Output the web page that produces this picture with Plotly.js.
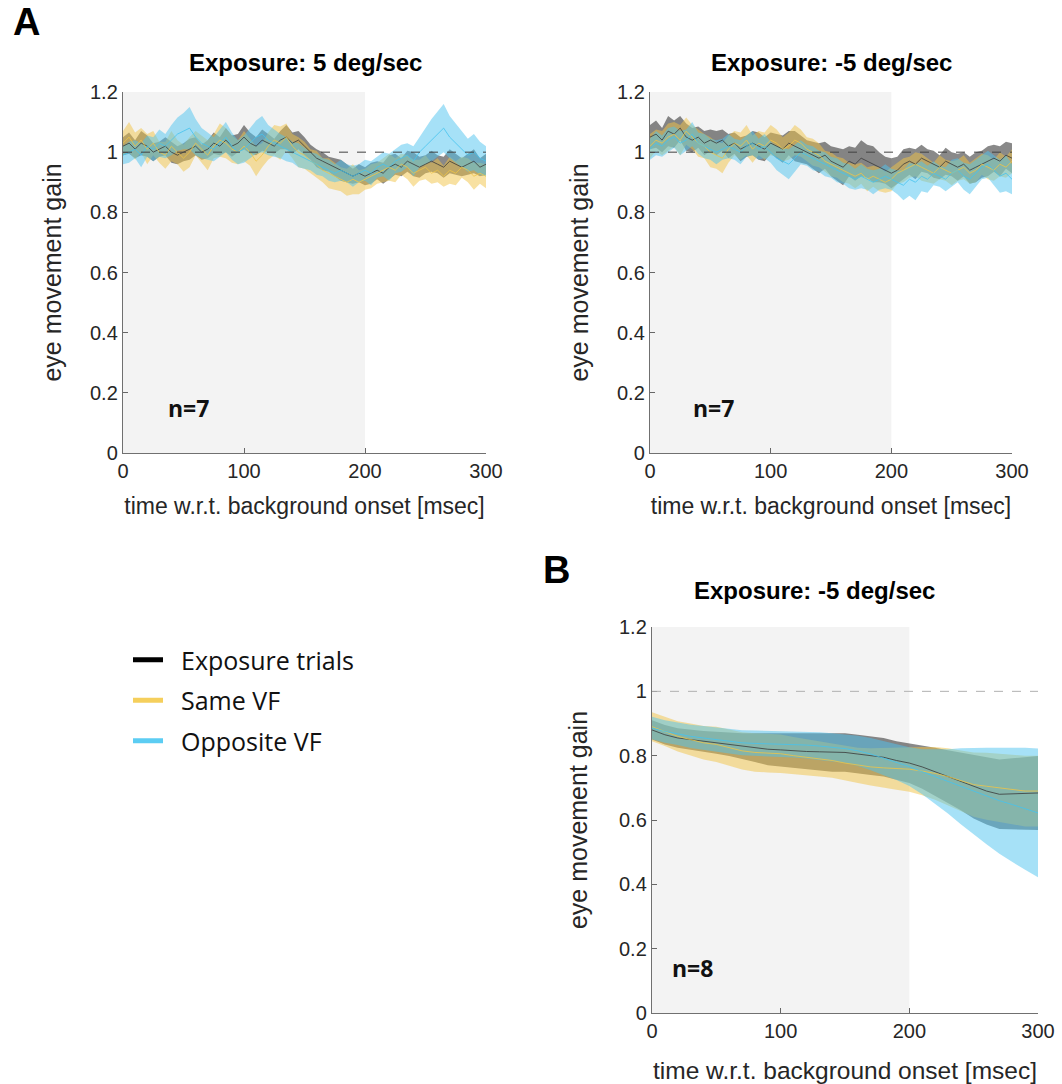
<!DOCTYPE html>
<html>
<head>
<meta charset="utf-8">
<script src="https://cdn.plot.ly/plotly-3.0.1.min.js"></script>
<style>html,body{margin:0;padding:0;background:#fff;}#chart{width:1062px;height:1084px;}</style>
</head>
<body>
<div id="chart"></div>
<script>
// ---------------- DATA ----------------
const seriesNames = ["Exposure trials", "Same VF", "Opposite VF"];
const panelTitles = ["Exposure: 5 deg/sec", "Exposure: -5 deg/sec", "Exposure: -5 deg/sec"];
const nLabels = ["n=7", "n=7", "n=8"];
const xTicks = [0, 100, 200, 300];
const yTicks = [0, 0.2, 0.4, 0.6, 0.8, 1, 1.2];

// Panel A left (5 deg/sec), samples every 5 ms, 0..300
const aL_exp_mean = [1.02,1.03,1.01,1.03,1.02,1.00,1.01,1.02,1.00,0.99,1.00,
  1.01,1.02,1.00,1.01,1.03,1.02,1.04,1.02,1.03,1.05,
  1.03,1.02,1.04,1.03,1.02,1.04,1.05,1.03,1.04,1.02,
  1.00,0.98,0.97,0.96,0.95,0.94,0.93,0.92,0.93,0.92,
  0.93,0.94,0.93,0.95,0.96,0.95,0.97,0.96,0.95,0.96,
  0.97,0.96,0.95,0.97,0.96,0.95,0.96,0.97,0.95,0.96];
const aL_exp_sem = [0.03,0.035,0.03,0.04,0.035,0.03,0.025,0.03,0.035,0.03,0.03,
  0.035,0.03,0.025,0.03,0.035,0.03,0.04,0.035,0.03,0.04,
  0.035,0.03,0.035,0.03,0.025,0.03,0.04,0.035,0.03,0.03,
  0.025,0.03,0.03,0.025,0.03,0.035,0.03,0.025,0.03,0.03,
  0.035,0.03,0.035,0.04,0.035,0.03,0.035,0.04,0.035,0.03,
  0.035,0.03,0.035,0.04,0.035,0.03,0.035,0.04,0.03,0.035];
const aL_same_mean = [1.03,1.05,1.02,1.04,1.01,1.03,1.00,0.99,1.02,1.00,0.98,
  1.00,1.03,1.01,0.99,1.02,1.04,1.03,1.01,1.00,1.02,
  1.00,0.97,0.99,1.02,1.04,1.03,1.05,1.02,1.00,0.99,
  0.97,0.96,0.94,0.93,0.92,0.91,0.90,0.91,0.90,0.91,
  0.92,0.93,0.94,0.95,0.94,0.96,0.95,0.93,0.94,0.95,
  0.93,0.94,0.92,0.94,0.93,0.95,0.94,0.92,0.93,0.92];
const aL_same_sem = [0.04,0.05,0.045,0.04,0.05,0.04,0.035,0.045,0.05,0.04,0.045,
  0.05,0.04,0.045,0.05,0.04,0.055,0.05,0.045,0.04,0.05,
  0.045,0.05,0.04,0.045,0.05,0.055,0.045,0.04,0.05,0.045,
  0.04,0.045,0.04,0.05,0.045,0.04,0.045,0.05,0.04,0.035,
  0.04,0.035,0.04,0.045,0.04,0.035,0.04,0.045,0.035,0.04,
  0.035,0.04,0.035,0.045,0.04,0.035,0.04,0.045,0.035,0.04];
const aL_opp_mean = [0.99,1.00,1.01,0.99,1.02,1.01,1.03,1.02,1.04,1.06,1.07,
  1.08,1.05,1.03,1.02,1.01,1.03,1.05,1.02,1.00,1.01,
  1.03,1.05,1.06,1.04,1.03,1.02,1.01,1.00,0.99,0.98,
  0.97,0.96,0.95,0.94,0.93,0.94,0.93,0.92,0.93,0.94,
  0.93,0.95,0.96,0.95,0.97,0.98,0.99,0.97,1.00,1.02,
  1.04,1.06,1.08,1.05,1.03,1.01,0.99,1.00,0.98,0.97];
const aL_opp_sem = [0.03,0.035,0.03,0.04,0.035,0.04,0.045,0.04,0.05,0.055,0.06,
  0.07,0.06,0.05,0.045,0.04,0.045,0.05,0.045,0.04,0.045,
  0.05,0.055,0.06,0.05,0.045,0.04,0.04,0.035,0.04,0.035,
  0.03,0.035,0.03,0.035,0.03,0.035,0.03,0.035,0.03,0.035,
  0.04,0.035,0.04,0.045,0.04,0.045,0.04,0.05,0.05,0.06,
  0.07,0.075,0.08,0.07,0.065,0.06,0.055,0.06,0.055,0.05];

// Panel A right (-5 deg/sec), samples every 5 ms
const aR_exp_mean = [1.05,1.06,1.04,1.07,1.06,1.08,1.05,1.04,1.05,1.03,1.04,
  1.03,1.04,1.02,1.03,1.01,1.02,1.03,1.02,1.01,1.03,
  1.02,1.01,1.03,1.02,1.01,1.00,0.99,0.98,0.99,0.97,
  0.96,0.95,0.97,0.96,0.98,0.97,0.96,0.95,0.94,0.93,
  0.94,0.96,0.97,0.96,0.98,0.97,0.96,0.95,0.97,0.96,
  0.95,0.96,0.94,0.95,0.96,0.97,0.98,0.97,0.99,0.98];
const aR_exp_sem = [0.04,0.045,0.04,0.05,0.045,0.04,0.045,0.04,0.035,0.04,0.035,
  0.04,0.035,0.04,0.035,0.04,0.035,0.04,0.045,0.04,0.035,
  0.04,0.045,0.04,0.05,0.045,0.04,0.045,0.05,0.045,0.05,
  0.055,0.06,0.05,0.055,0.06,0.055,0.06,0.05,0.045,0.05,
  0.045,0.05,0.045,0.05,0.045,0.04,0.045,0.04,0.045,0.04,
  0.045,0.04,0.045,0.05,0.045,0.05,0.045,0.05,0.045,0.05];
const aR_same_mean = [1.02,1.04,1.03,1.05,1.06,1.04,1.07,1.05,1.03,1.02,1.00,
  0.99,0.98,1.01,1.03,1.02,1.04,1.01,1.03,1.02,1.04,
  1.03,1.01,1.02,1.04,1.03,1.01,1.00,0.99,0.97,0.96,
  0.95,0.94,0.93,0.92,0.93,0.91,0.92,0.91,0.90,0.91,
  0.93,0.94,0.95,0.96,0.95,0.94,0.93,0.95,0.94,0.93,
  0.94,0.95,0.93,0.94,0.96,0.95,0.94,0.96,0.95,0.97];
const aR_same_sem = [0.04,0.035,0.04,0.045,0.04,0.05,0.045,0.04,0.045,0.04,0.05,
  0.045,0.05,0.045,0.04,0.045,0.05,0.045,0.04,0.045,0.05,
  0.045,0.04,0.045,0.05,0.045,0.04,0.045,0.04,0.035,0.04,
  0.035,0.04,0.035,0.04,0.035,0.04,0.035,0.04,0.035,0.04,
  0.035,0.04,0.035,0.04,0.045,0.04,0.035,0.04,0.035,0.04,
  0.035,0.04,0.035,0.04,0.035,0.04,0.035,0.04,0.035,0.04];
const aR_opp_mean = [1.01,1.03,1.02,1.04,1.05,1.03,1.04,1.06,1.03,1.02,1.01,
  1.00,1.01,1.02,1.01,1.00,1.02,1.03,1.01,1.02,1.00,
  0.98,0.97,0.96,0.98,1.00,0.99,0.98,0.97,0.96,0.95,
  0.94,0.93,0.92,0.91,0.92,0.91,0.90,0.91,0.92,0.91,
  0.90,0.89,0.91,0.90,0.92,0.91,0.93,0.92,0.91,0.93,
  0.94,0.92,0.91,0.93,0.95,0.96,0.94,0.92,0.93,0.91];
const aR_opp_sem = [0.035,0.04,0.035,0.04,0.035,0.04,0.035,0.04,0.035,0.04,0.035,
  0.04,0.035,0.04,0.035,0.04,0.035,0.04,0.035,0.04,0.035,
  0.04,0.045,0.05,0.045,0.04,0.035,0.04,0.035,0.04,0.035,
  0.04,0.035,0.04,0.035,0.04,0.035,0.04,0.035,0.04,0.035,
  0.04,0.05,0.055,0.06,0.05,0.045,0.04,0.035,0.04,0.045,
  0.04,0.045,0.05,0.045,0.04,0.045,0.05,0.055,0.06,0.05];

// Panel B (-5 deg/sec), samples every 10 ms
const b_exp_mean = [0.88,0.865,0.855,0.85,0.845,0.84,0.835,0.83,0.825,0.82,0.818,
  0.815,0.813,0.812,0.81,0.81,0.805,0.80,0.795,0.785,0.777,
  0.765,0.75,0.735,0.72,0.703,0.69,0.68,0.682,0.683,0.684];
const b_exp_sem = [0.03,0.03,0.03,0.03,0.032,0.034,0.036,0.04,0.045,0.05,0.052,
  0.055,0.057,0.058,0.06,0.06,0.06,0.06,0.06,0.06,0.062,
  0.068,0.075,0.082,0.09,0.098,0.104,0.108,0.11,0.113,0.115];
const b_same_mean = [0.89,0.875,0.86,0.85,0.84,0.835,0.825,0.815,0.81,0.808,0.806,
  0.80,0.795,0.79,0.785,0.777,0.77,0.765,0.762,0.76,0.758,
  0.752,0.745,0.735,0.722,0.71,0.705,0.70,0.695,0.69,0.69];
const b_same_sem = [0.045,0.045,0.047,0.05,0.052,0.055,0.057,0.058,0.06,0.06,0.06,
  0.058,0.056,0.055,0.054,0.053,0.055,0.058,0.062,0.066,0.07,
  0.075,0.082,0.088,0.094,0.1,0.104,0.107,0.108,0.11,0.11];
const b_opp_mean = [0.886,0.875,0.868,0.86,0.855,0.85,0.845,0.84,0.838,0.837,0.836,
  0.835,0.833,0.83,0.826,0.822,0.815,0.805,0.792,0.78,0.766,
  0.75,0.735,0.72,0.705,0.69,0.675,0.66,0.648,0.635,0.622];
const b_opp_sem = [0.035,0.035,0.035,0.036,0.037,0.038,0.038,0.039,0.04,0.04,0.04,
  0.041,0.042,0.043,0.044,0.045,0.047,0.05,0.053,0.056,0.06,
  0.07,0.085,0.1,0.118,0.135,0.15,0.165,0.178,0.19,0.2];

// ---------------- STYLE ----------------
const lineColors = ["#3a3a3a", "#f0c445", "#45c3ef"];
const bandColors = ["rgba(40,40,40,0.55)", "rgba(242,196,70,0.5)", "rgba(78,196,240,0.5)"];
const legendColors = ["#000000", "#f5cf5c", "#5ccdf3"];
const FONT = "Liberation Sans, Arial, sans-serif";
const tickFont = {family: FONT, size: 20, color: "#262626"};

function timeGrid(n) { const step = 300 / (n - 1); return Array.from({length: n}, (_, i) => i * step); }

const traces = [];
function addPanel(xa, ya, means, sems) {
  const t = timeGrid(means[0].length);
  for (let s = 0; s < 3; s++) {
    const m = means[s], e = sems[s];
    const up = m.map((v, i) => v + e[i]);
    const lo = m.map((v, i) => v - e[i]);
    traces.push({x: t.concat(t.slice().reverse()), y: up.concat(lo.slice().reverse()),
      xaxis: xa, yaxis: ya, type: "scatter", mode: "lines", fill: "toself",
      fillcolor: bandColors[s], line: {width: 0, color: bandColors[s]},
      hoverinfo: "skip", showlegend: false});
  }
  for (let s = 0; s < 3; s++) {
    traces.push({x: t, y: means[s], xaxis: xa, yaxis: ya, type: "scatter", mode: "lines",
      line: {width: 1, color: lineColors[s]}, opacity: 0.8, showlegend: false});
  }
}
addPanel("x", "y", [aL_exp_mean, aL_same_mean, aL_opp_mean], [aL_exp_sem, aL_same_sem, aL_opp_sem]);
addPanel("x2", "y2", [aR_exp_mean, aR_same_mean, aR_opp_mean], [aR_exp_sem, aR_same_sem, aR_opp_sem]);
addPanel("x3", "y3", [b_exp_mean, b_same_mean, b_opp_mean], [b_exp_sem, b_same_sem, b_opp_sem]);

// legend entries
for (let s = 0; s < 3; s++) {
  traces.push({x: [null], y: [null], type: "scatter", mode: "lines", name: "\u00a0\u00a0" + seriesNames[s],
    line: {width: 5, color: legendColors[s]}, showlegend: true, legendgroup: "g" + s, xaxis: "x3", yaxis: "y3"});
}

const W = 1062, H = 1084;
function px(x) { return x / W; }
function py(y) { return 1 - y / H; }

function xax(dom, fs, so) {
  return {domain: dom, range: [0, 300], tickvals: xTicks, ticks: "inside", ticklen: 5, tickcolor: "#666",
    showline: true, linecolor: "#707070", linewidth: 1.2, showgrid: false, zeroline: false,
    tickfont: tickFont, fixedrange: true,
    title: {text: "time w.r.t. background onset [msec]", font: {family: FONT, size: fs, color: "#262626"}, standoff: so}};
}
function yax(dom, anchor, so) {
  return {domain: dom, range: [0, 1.2], tickvals: yTicks, ticks: "inside", ticklen: 5, tickcolor: "#666",
    showline: true, linecolor: "#707070", linewidth: 1.2, showgrid: false, zeroline: false,
    tickfont: tickFont, fixedrange: true, anchor: anchor,
    title: {text: "eye movement gain", font: {family: FONT, size: 25, color: "#262626"}, standoff: so}};
}

const shapes = [];
[["x", "y", "#404040"], ["x2", "y2", "#404040"], ["x3", "y3", "#b0b0b0"]].forEach(([xr, yr, dc]) => {
  shapes.push({type: "rect", xref: xr, yref: yr, x0: 0, x1: 200, y0: 0, y1: 1.2,
    fillcolor: "#f3f3f3", line: {width: 0}, layer: "below"});
  shapes.push({type: "line", xref: xr, yref: yr, x0: 0, x1: 300, y0: 1, y1: 1,
    line: {color: dc, width: 1, dash: "dash"}, layer: "above"});
});

const titleFont = {family: FONT, size: 24, color: "#000"};
function ann(text, x, y, font) {
  return {text: text, x: px(x), y: py(y), xref: "paper", yref: "paper", showarrow: false,
    xanchor: "center", yanchor: "middle", font: font};
}
const nFont = {family: "Open Sans, sans-serif", size: 23, color: "#111"};
const letterFont = {family: FONT, size: 38, color: "#000"};
const annotations = [
  ann("<b>" + panelTitles[0] + "</b>", 305, 62, titleFont),
  ann("<b>" + panelTitles[1] + "</b>", 831, 62, titleFont),
  ann("<b>" + panelTitles[2] + "</b>", 814, 590, titleFont),
  ann("<b>A</b>", 26, 22, letterFont),
  ann("<b>B</b>", 556, 570, letterFont),
  ann("<b>" + nLabels[0] + "</b>", 188, 408, nFont),
  ann("<b>" + nLabels[1] + "</b>", 713, 408, nFont),
  ann("<b>" + nLabels[2] + "</b>", 692, 968, nFont)
];

const layout = {
  width: W, height: H, margin: {l: 0, r: 0, t: 0, b: 0},
  paper_bgcolor: "#fff", plot_bgcolor: "rgba(0,0,0,0)",
  xaxis: Object.assign(xax([px(123), px(486)], 23, 16), {anchor: "y"}), yaxis: yax([py(453), py(92)], "x", 21),
  xaxis2: Object.assign(xax([px(650), px(1012)], 23, 16), {anchor: "y2"}), yaxis2: yax([py(453), py(92)], "x2", 21),
  xaxis3: Object.assign(xax([px(652), px(1038)], 24.5, 26), {anchor: "y3"}), yaxis3: yax([py(1013), py(627)], "x3", 24),
  shapes: shapes, annotations: annotations,
  showlegend: true,
  legend: {x: px(128), y: py(637), xanchor: "left", yanchor: "top", bgcolor: "rgba(0,0,0,0)",
    font: {family: "Open Sans, sans-serif", size: 25, color: "#111"}, tracegroupgap: 5, itemwidth: 30}
};

Plotly.newPlot("chart", traces, layout, {staticPlot: true, displayModeBar: false});
</script>
</body>
</html>
